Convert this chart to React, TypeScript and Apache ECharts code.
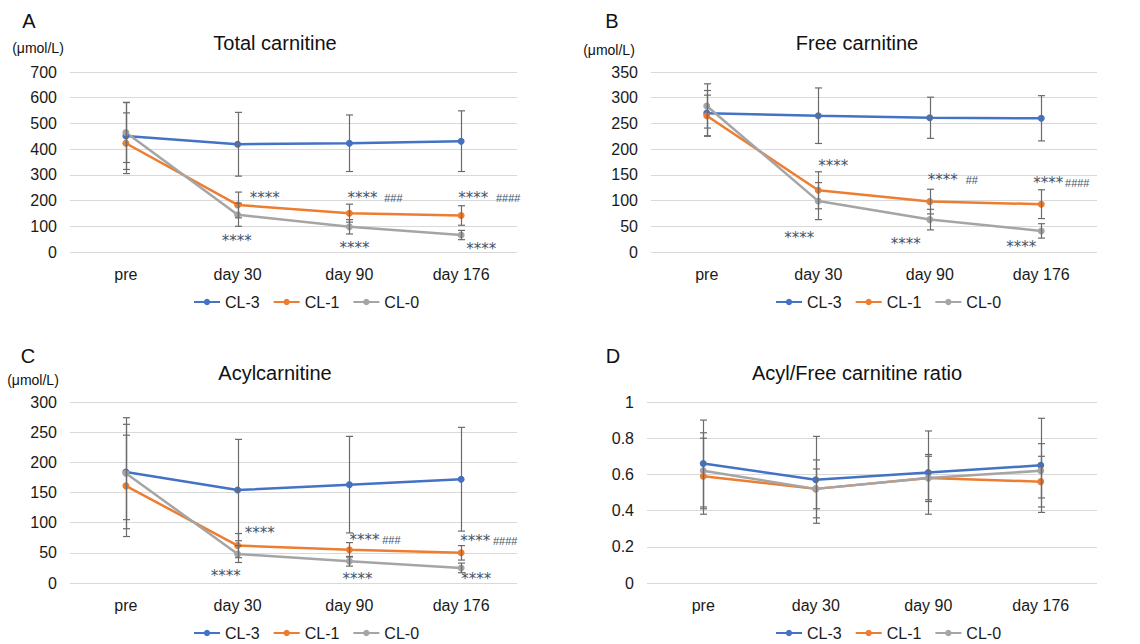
import React, { useEffect, useRef } from "react";
import * as echarts from "echarts";

const categories = ["pre", "day 30", "day 90", "day 176"];
const groups = ["CL-3", "CL-1", "CL-0"];
const groupColors = ["#4472C4", "#ED7D31", "#A5A5A5"];

// Total carnitine
const totalCL3 = [451, 419, 423, 431];
const totalCL3Err = [130, 124, 110, 118];
const totalCL1 = [423, 183, 151, 142];
const totalCL1Err = [118, 50, 35, 38];
const totalCL0 = [465, 145, 98, 66];
const totalCL0Err = [117, 45, 28, 18];

// Free carnitine
const freeCL3 = [270, 265, 261, 260];
const freeCL3Err = [44, 54, 40, 44];
const freeCL1 = [265, 120, 98, 93];
const freeCL1Err = [40, 36, 24, 28];
const freeCL0 = [284, 99, 63, 41];
const freeCL0Err = [43, 36, 20, 14];

// Acylcarnitine
const acylCL3 = [184, 154, 163, 172];
const acylCL3Err = [79, 84, 80, 86];
const acylCL1 = [161, 62, 55, 50];
const acylCL1Err = [84, 20, 12, 12];
const acylCL0 = [182, 48, 36, 25];
const acylCL0Err = [92, 14, 8, 8];

// Acyl/Free ratio
const ratioCL3 = [0.66, 0.57, 0.61, 0.65];
const ratioCL3Err = [0.24, 0.24, 0.23, 0.26];
const ratioCL1 = [0.59, 0.52, 0.58, 0.56];
const ratioCL1Err = [0.21, 0.16, 0.13, 0.14];
const ratioCL0 = [0.62, 0.52, 0.58, 0.62];
const ratioCL0Err = [0.21, 0.11, 0.12, 0.15];

// y axes
const yMax = [700, 350, 300, 1];
const yStep = [100, 50, 50, 0.2];

// annotations: [categoryIndex, value, text, dx]
const annotTotal: [number, number, string, number][] = [
  [1, 210, "****", 27], [1, 44, "****", -1],
  [2, 210, "****", 13], [2, 210, "###", 44], [2, 16, "****", 5],
  [3, 211, "****", 12], [3, 211, "####", 47], [3, 13, "****", 20],
];
const annotFree: [number, number, string, number][] = [
  [1, 167, "****", 15], [1, 27, "****", -19],
  [2, 140, "****", 13], [2, 140, "##", 42], [2, 16, "****", -24],
  [3, 134, "****", 7], [3, 134, "####", 36], [3, 10, "****", -20],
];
const annotAcyl: [number, number, string, number][] = [
  [1, 83, "****", 22], [1, 12, "****", -12],
  [2, 72, "****", 15], [2, 72, "###", 42], [2, 6, "****", 8],
  [3, 70, "****", 14], [3, 70, "####", 44], [3, 6, "****", 15],
];

const panelTitles = ["Total carnitine", "Free carnitine", "Acylcarnitine", "Acyl/Free carnitine ratio"];
const panelLetters = ["A", "B", "C", "D"];

const FONT = "'Liberation Sans', Arial, Helvetica, sans-serif";

export default function App() {
  const ref = useRef<HTMLDivElement>(null);
  useEffect(() => {
    if (!ref.current) return;
    const chart = echarts.init(ref.current, undefined, { renderer: "svg" });

    const panelData = [
      [[totalCL3, totalCL3Err], [totalCL1, totalCL1Err], [totalCL0, totalCL0Err]],
      [[freeCL3, freeCL3Err], [freeCL1, freeCL1Err], [freeCL0, freeCL0Err]],
      [[acylCL3, acylCL3Err], [acylCL1, acylCL1Err], [acylCL0, acylCL0Err]],
      [[ratioCL3, ratioCL3Err], [ratioCL1, ratioCL1Err], [ratioCL0, ratioCL0Err]],
    ];
    const annots = [annotTotal, annotFree, annotAcyl, []];

    const grids = [
      { left: 70, width: 447, top: 72, height: 180 },
      { left: 651, width: 446, top: 72, height: 180 },
      { left: 70, width: 447, top: 402, height: 181 },
      { left: 647, width: 450, top: 402, height: 181 },
    ];

    const series: any[] = [];
    panelData.forEach((groupsData, p) => {
      groupsData.forEach(([vals, errs], g) => {
        series.push({
          type: "line",
          name: groups[g],
          xAxisIndex: p,
          yAxisIndex: p,
          z: 2,
          data: vals,
          symbol: "circle",
          symbolSize: 7,
          color: groupColors[g],
          lineStyle: { width: 2.5, color: groupColors[g] },
          itemStyle: { color: groupColors[g] },
        });
        series.push({
          type: "custom",
          xAxisIndex: p,
          yAxisIndex: p,
          z: 4,
          silent: true,
          data: vals.map((v, i) => [i, v, errs[i]]),
          renderItem: (params: any, api: any) => {
            const x = api.value(0);
            const m = api.value(1);
            const e = api.value(2);
            const top = api.coord([x, m + e]);
            const bot = api.coord([x, m - e]);
            const c = Math.round(top[0]) + 0.5;
            const w = 3.5;
            const st = { stroke: "#6b6b6b", lineWidth: 1.2 };
            return {
              type: "group",
              children: [
                { type: "line", shape: { x1: c, y1: top[1], x2: c, y2: bot[1] }, style: st },
                { type: "line", shape: { x1: c - w, y1: top[1], x2: c + w, y2: top[1] }, style: st },
                { type: "line", shape: { x1: c - w, y1: bot[1], x2: c + w, y2: bot[1] }, style: st },
              ],
            };
          },
        });
      });
      const an = annots[p];
      if (an.length) {
        series.push({
          type: "custom",
          xAxisIndex: p,
          yAxisIndex: p,
          z: 5,
          silent: true,
          data: an.map((a) => [a[0], a[1]]),
          renderItem: (params: any, api: any) => {
            const a = an[params.dataIndex];
            const pt = api.coord([api.value(0), api.value(1)]);
            const isHash = a[2].indexOf("#") >= 0;
            return {
              type: "text",
              x: pt[0] + a[3],
              y: pt[1],
              style: {
                text: a[2],
                fill: "#44546A",
                font: isHash ? `11px ${FONT}` : `15px 'DejaVu Sans', sans-serif`,
                textAlign: "center",
                textVerticalAlign: "middle",
                verticalAlign: "middle",
              },
            };
          },
        });
      }
    });

    const graphic: any[] = [];
    const titlePos = [[275, 43], [857, 43], [275, 373], [857, 373]];
    const letterPos = [[29, 21], [612, 21], [28, 356], [613, 356]];
    const unitPos = [[38, 48], [609, 50], [33, 380]];
    panelTitles.forEach((t, i) => {
      graphic.push({
        type: "text",
        x: titlePos[i][0],
        y: titlePos[i][1],
        style: { text: t, font: `20px ${FONT}`, fill: "#111", textAlign: "center", textVerticalAlign: "middle", verticalAlign: "middle" },
      });
      graphic.push({
        type: "text",
        x: letterPos[i][0],
        y: letterPos[i][1],
        style: { text: panelLetters[i], font: `20px ${FONT}`, fill: "#111", textAlign: "center", textVerticalAlign: "middle", verticalAlign: "middle" },
      });
    });
    unitPos.forEach((u) => {
      graphic.push({
        type: "text",
        x: u[0],
        y: u[1],
        style: { text: "(μmol/L)", font: `14px ${FONT}`, fill: "#111", textAlign: "center", textVerticalAlign: "middle", verticalAlign: "middle" },
      });
    });

    const legendPos = [[193, 294], [775, 294], [193, 625], [775, 625]];

    chart.setOption({
      animation: false,
      backgroundColor: "#ffffff",
      textStyle: { fontFamily: FONT },
      grid: grids,
      xAxis: grids.map((_, i) => ({
        type: "category",
        gridIndex: i,
        data: categories,
        boundaryGap: true,
        axisLine: { show: false },
        axisTick: { show: false },
        axisLabel: { color: "#1a1a1a", fontSize: 16, fontFamily: FONT, margin: 14 },
        splitLine: { show: false },
      })),
      yAxis: grids.map((_, i) => ({
        type: "value",
        gridIndex: i,
        min: 0,
        max: yMax[i],
        interval: yStep[i],
        axisLine: { show: false },
        axisTick: { show: false },
        axisLabel: { color: "#1a1a1a", fontSize: 16, fontFamily: FONT, margin: 13 },
        splitLine: { show: true, lineStyle: { color: "#d9d9d9", width: 1 } },
      })),
      legend: legendPos.map((lp) => ({
        data: groups,
        left: lp[0],
        top: lp[1],
        itemWidth: 26,
        itemHeight: 8,
        itemGap: 13,
        padding: 0,
        selectedMode: false,
        textStyle: { fontSize: 16, fontFamily: FONT, color: "#1a1a1a" },
      })),
      graphic,
      series,
    });

    return () => chart.dispose();
  }, []);

  return (
    <div
      ref={ref}
      style={{ position: "absolute", left: 0, top: 0, width: 1140, height: 644, background: "#fff" }}
    />
  );
}
